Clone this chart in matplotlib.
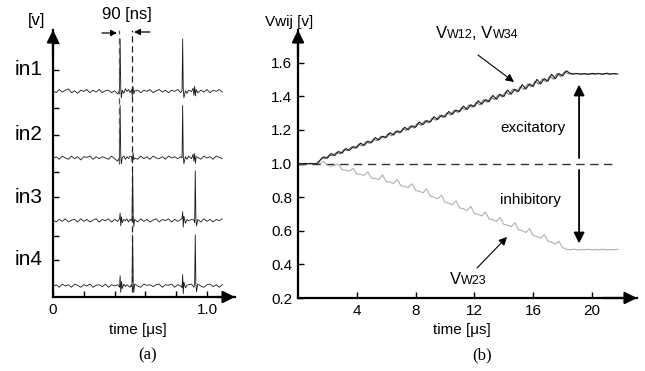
import matplotlib
matplotlib.use("Agg")
import matplotlib.pyplot as plt
from matplotlib.offsetbox import TextArea, HPacker, AnnotationBbox

plt.rcParams["font.family"] = ["Liberation Sans", "DejaVu Sans"]

W, H = 645, 371

# ---- panel (a): input spike trains, relative to each trace's baseline ----
in1_t = [0.00, 0.02, 0.04, 0.06, 0.08, 0.10, 0.12, 0.14, 0.16, 0.18, 0.20, 0.22, 0.24, 0.26, 0.28,
         0.30, 0.32, 0.34, 0.36, 0.38, 0.40, 0.42, 0.432, 0.436, 0.440, 0.444, 0.45, 0.46, 0.47,
         0.48, 0.49, 0.50, 0.51, 0.515, 0.52, 0.525, 0.53, 0.55, 0.57, 0.59, 0.61, 0.63, 0.65, 0.67,
         0.69, 0.71, 0.73, 0.75, 0.77, 0.79, 0.81, 0.83, 0.838, 0.842, 0.846, 0.850, 0.86, 0.87,
         0.88, 0.90, 0.91, 0.915, 0.92, 0.925, 0.93, 0.94, 0.96, 0.98, 1.00, 1.02, 1.04, 1.06,
         1.08, 1.10]
in1_v = [0.01, -0.02, 0.03, -0.01, 0.02, 0.04, -0.02, 0.01, -0.03, 0.02, 0.00, 0.03, -0.02, 0.02,
         -0.01, 0.03, -0.02, 0.01, 0.02, -0.02, 0.01, -0.04, 0.02, 0.82, 0.05, -0.10, 0.02, -0.03,
         0.04, 0.00, 0.03, -0.02, 0.03, -0.07, 0.07, -0.04, 0.01, 0.02, -0.02, 0.02, 0.00, 0.03,
         -0.02, 0.01, 0.03, -0.01, 0.02, -0.02, 0.02, 0.00, 0.03, -0.02, 0.01, 0.82, 0.04, -0.10,
         0.01, -0.03, 0.02, 0.00, 0.05, -0.06, 0.08, -0.07, 0.03, -0.02, 0.02, -0.01, 0.03, -0.02,
         0.02, 0.00, 0.03, -0.01]

in2_t = in1_t
in2_v = [-0.01, 0.02, -0.02, 0.03, 0.00, -0.02, 0.03, -0.01, 0.02, -0.03, 0.02, 0.01, 0.03, -0.02,
         0.02, -0.01, 0.02, 0.00, -0.02, 0.03, -0.01, -0.05, 0.01, 0.82, 0.04, -0.09, 0.01, 0.03,
         -0.02, 0.02, -0.01, 0.03, 0.02, -0.08, 0.08, -0.03, 0.00, -0.02, 0.03, -0.01, 0.02, -0.02,
         0.03, 0.00, -0.01, 0.02, -0.02, 0.03, 0.00, 0.02, -0.01, 0.02, 0.00, 0.82, 0.03, -0.09,
         0.02, -0.02, 0.03, -0.01, 0.06, -0.05, 0.07, -0.08, 0.02, 0.01, -0.02, 0.03, 0.00, 0.02,
         -0.02, 0.03, 0.01, -0.01]

in3_t = [0.00, 0.02, 0.04, 0.06, 0.08, 0.10, 0.12, 0.14, 0.16, 0.18, 0.20, 0.22, 0.24, 0.26, 0.28,
         0.30, 0.32, 0.34, 0.36, 0.38, 0.40, 0.42, 0.432, 0.436, 0.440, 0.445, 0.45, 0.46, 0.47,
         0.48, 0.49, 0.50, 0.508, 0.513, 0.517, 0.521, 0.525, 0.53, 0.55, 0.57, 0.59, 0.61, 0.63,
         0.65, 0.67, 0.69, 0.71, 0.73, 0.75, 0.77, 0.79, 0.81, 0.83, 0.838, 0.842, 0.846, 0.850,
         0.86, 0.87, 0.88, 0.90, 0.915, 0.920, 0.924, 0.928, 0.932, 0.94, 0.96, 0.98, 1.00, 1.02,
         1.04, 1.06, 1.08, 1.10]
in3_v = [0.01, -0.02, 0.02, -0.01, 0.03, -0.02, 0.01, 0.02, -0.02, 0.03, -0.01, 0.02, -0.02, 0.01,
         0.03, -0.02, 0.02, 0.00, 0.03, -0.02, 0.02, -0.01, 0.03, 0.12, -0.08, 0.06, -0.03, 0.02,
         0.00, 0.03, -0.02, 0.02, 0.00, 0.03, 0.78, 0.05, -0.09, 0.02, -0.02, 0.03, -0.01, 0.02,
         -0.02, 0.01, 0.03, -0.02, 0.02, 0.00, 0.03, -0.02, 0.02, -0.01, 0.02, 0.04, 0.14, -0.10,
         0.07, -0.04, 0.02, 0.00, 0.02, 0.01, -0.03, 0.78, 0.04, -0.08, 0.02, -0.02, 0.03, -0.01,
         0.02, -0.02, 0.02, 0.00, 0.03]

in4_t = in3_t
in4_v = [-0.01, 0.02, -0.02, 0.03, 0.00, 0.02, -0.02, 0.03, 0.01, -0.02, 0.02, 0.00, 0.03, -0.02,
         0.01, 0.02, -0.01, 0.03, -0.02, 0.02, 0.00, 0.02, -0.02, 0.16, -0.10, 0.07, -0.04, 0.03,
         -0.01, 0.02, 0.00, -0.02, 0.02, -0.01, 0.80, 0.04, -0.10, 0.03, 0.00, -0.02, 0.03, 0.01,
         0.02, -0.01, 0.02, 0.03, -0.02, 0.02, 0.01, 0.03, -0.02, 0.02, 0.00, -0.03, 0.18, -0.12,
         0.06, -0.03, 0.01, 0.02, 0.03, -0.02, 0.02, 0.80, 0.03, -0.09, 0.03, 0.00, -0.02, 0.02,
         0.03, -0.01, 0.02, -0.02, 0.02]

traces = [in1_v, in2_v, in3_v, in4_v]
trace_t = [in1_t, in2_t, in3_t, in4_t]
trace_names = ["in1", "in2", "in3", "in4"]
a_yticks = [0.41, 0.78, 1.39, 1.78, 2.36, 2.78, 3.38, 3.80]

# ---- panel (b): synaptic weight voltages ----
t_w12 = [i * 0.25 for i in range(88)]
vw12 = [1.000, 0.998, 1.001, 0.999, 1.000, 0.998, 1.020, 1.040, 1.032, 1.060, 1.048, 1.072,
        1.062, 1.090, 1.078, 1.101, 1.094, 1.122, 1.108, 1.133, 1.124, 1.155, 1.140, 1.163,
        1.155, 1.184, 1.170, 1.195, 1.186, 1.216, 1.201, 1.225, 1.216, 1.247, 1.232, 1.256,
        1.247, 1.279, 1.262, 1.287, 1.278, 1.310, 1.293, 1.318, 1.309, 1.342, 1.322, 1.350,
        1.339, 1.374, 1.353, 1.381, 1.368, 1.406, 1.383, 1.412, 1.399, 1.438, 1.413, 1.443,
        1.429, 1.470, 1.444, 1.474, 1.459, 1.501, 1.474, 1.505, 1.490, 1.532, 1.505, 1.536,
        1.522, 1.552, 1.538, 1.533, 1.536, 1.532, 1.535, 1.531, 1.537, 1.533, 1.536, 1.531,
        1.538, 1.532, 1.536, 1.533]
t_w34 = [0.125 + i * 0.25 for i in range(87)]
vw34 = [1.001, 0.999, 1.000, 1.002, 0.999, 1.001, 1.036, 1.030, 1.052, 1.045, 1.068, 1.058,
        1.084, 1.076, 1.099, 1.090, 1.116, 1.105, 1.131, 1.120, 1.146, 1.136, 1.162, 1.151,
        1.178, 1.166, 1.193, 1.181, 1.209, 1.197, 1.224, 1.212, 1.240, 1.228, 1.255, 1.242,
        1.271, 1.258, 1.287, 1.273, 1.302, 1.289, 1.318, 1.304, 1.333, 1.320, 1.349, 1.335,
        1.365, 1.350, 1.380, 1.365, 1.396, 1.381, 1.412, 1.396, 1.427, 1.411, 1.443, 1.426,
        1.459, 1.441, 1.474, 1.456, 1.490, 1.472, 1.505, 1.487, 1.521, 1.502, 1.537, 1.517,
        1.546, 1.535, 1.532, 1.537, 1.533, 1.536, 1.531, 1.535, 1.532, 1.537, 1.533, 1.536,
        1.532, 1.535, 1.533]
t_w23 = t_w12
vw23 = [1.000, 0.999, 1.001, 0.998, 1.000, 1.001, 1.000, 1.012, 0.990, 0.984, 0.990, 0.997,
        0.963, 0.961, 0.955, 0.972, 0.938, 0.936, 0.930, 0.950, 0.913, 0.912, 0.905, 0.933,
        0.893, 0.890, 0.882, 0.905, 0.868, 0.864, 0.857, 0.880, 0.840, 0.835, 0.826, 0.850,
        0.806, 0.800, 0.790, 0.812, 0.770, 0.765, 0.754, 0.778, 0.736, 0.731, 0.722, 0.745,
        0.703, 0.698, 0.688, 0.712, 0.670, 0.666, 0.656, 0.680, 0.638, 0.634, 0.624, 0.648,
        0.606, 0.601, 0.590, 0.614, 0.572, 0.567, 0.556, 0.578, 0.539, 0.532, 0.521, 0.537,
        0.500, 0.490, 0.487, 0.491, 0.486, 0.489, 0.487, 0.490, 0.486, 0.489, 0.487, 0.490,
        0.486, 0.489, 0.487, 0.489]
b_yticks = [0.2, 0.4, 0.6, 0.8, 1.0, 1.2, 1.4, 1.6]
b_xticks = [4, 8, 12, 16, 20]


def fx(x):
    return x / W


def fy(y):
    return 1 - y / H


def axis_arrows(ax, size):
    style = dict(arrowstyle="-|>", color="k", lw=1.6, shrinkA=0, shrinkB=0,
                 mutation_scale=size)
    ax.annotate("", xy=(0, 1), xytext=(0, 0.9), xycoords="axes fraction",
                arrowprops=style, annotation_clip=False)
    ax.annotate("", xy=(1, 0), xytext=(0.9, 0), xycoords="axes fraction",
                arrowprops=style, annotation_clip=False)


def style_axes(ax):
    for side in ["top", "right"]:
        ax.spines[side].set_visible(False)
    for side in ["left", "bottom"]:
        ax.spines[side].set_linewidth(1.6)
    ax.tick_params(direction="in", length=4, width=1, labelsize=11, pad=4)


fig = plt.figure(figsize=(W / 100, H / 100), dpi=100)

# panel (a)
ax_a = fig.add_axes([fx(53), fy(297), fx(235 - 53), (297 - 30) / H])
offsets = [3.04, 2.0, 1.02, 0.0]
for t, v, off in zip(trace_t, traces, offsets):
    ax_a.plot(t, [val + off for val in v], color="#1a1a1a", lw=0.6)
ax_a.plot([0.429, 0.429], [1.9, 4.0], color="#555555", lw=0.9, ls=(0, (5, 3)))
ax_a.plot([0.515, 0.515], [-0.1, 4.0], color="#222222", lw=0.9, ls=(0, (5, 3)))
ax_a.set_xlim(0, 1.182)
ax_a.set_ylim(-0.172, 4.0)
ax_a.set_xticks([0, 0.2, 0.4, 0.6, 0.8, 1.0])
ax_a.set_xticklabels(["0", "", "", "", "", "1.0"])
ax_a.set_yticks(a_yticks)
ax_a.set_yticklabels([])
style_axes(ax_a)
axis_arrows(ax_a, 18)
for name, yv in zip(trace_names, [3.38, 2.36, 1.39, 0.41]):
    ax_a.text(-0.16, yv, name, fontsize=15, ha="center", va="center", clip_on=False)

fig.text(fx(37), fy(20), "[v]", fontsize=12, ha="center", va="center")
fig.text(fx(127), fy(15), "90 [ns]", fontsize=12, ha="center", va="center")
fig.text(fx(138), fy(330), "time [\u03bcs]", fontsize=11, ha="center", va="center")
fig.text(fx(148), fy(355), "(a)", fontsize=12, ha="center", va="center",
         family="Liberation Serif")
arr = dict(arrowstyle="-|>", color="k", lw=0.9, shrinkA=0, shrinkB=0, mutation_scale=9)
ax_a.annotate("", xy=(fx(117), fy(33)), xytext=(fx(102), fy(33)),
              xycoords="figure fraction", arrowprops=arr)
ax_a.annotate("", xy=(fx(134), fy(32)), xytext=(fx(150), fy(32)),
              xycoords="figure fraction", arrowprops=arr)

# panel (b)
ax_b = fig.add_axes([fx(298), fy(298), fx(637 - 298), (298 - 30) / H])
ax_b.plot([0, 21.4], [1.0, 1.0], color="#333333", lw=1.0, ls=(0, (6, 4)))
ax_b.plot(t_w23, vw23, color="#b0b0b0", lw=0.8)
ax_b.plot(t_w34, vw34, color="#808080", lw=0.8)
ax_b.plot(t_w12, vw12, color="#1a1a1a", lw=0.8)
ax_b.set_xlim(0, 23.06)
ax_b.set_ylim(0.2, 1.795)
ax_b.set_xticks(b_xticks)
ax_b.set_yticks(b_yticks)
ax_b.set_yticklabels([f"{v:.1f}" for v in b_yticks])
style_axes(ax_b)
axis_arrows(ax_b, 18)

big = dict(arrowstyle="-|>", color="k", lw=1.3, shrinkA=0, shrinkB=0, mutation_scale=16)
ax_b.annotate("", xy=(19.12, 1.47), xytext=(19.12, 1.033), arrowprops=big)
ax_b.annotate("", xy=(19.12, 0.525), xytext=(19.12, 0.962), arrowprops=big)
ax_b.text(fx(533), fy(128), "excitatory", fontsize=11, ha="center", va="center",
          transform=fig.transFigure)
ax_b.text(fx(530), fy(200), "inhibitory", fontsize=11, ha="center", va="center",
          transform=fig.transFigure)

thin = dict(arrowstyle="-|>", color="k", lw=0.8, shrinkA=0, shrinkB=0, mutation_scale=12)
ax_b.annotate("", xy=(fx(514), fy(82)), xytext=(fx(478), fy(55)),
              xycoords="figure fraction", arrowprops=thin)
ax_b.annotate("", xy=(fx(507), fy(237)), xytext=(fx(477), fy(268)),
              xycoords="figure fraction", arrowprops=thin)


def mixed_label(parts, x, y):
    boxes = [TextArea(s, textprops=dict(fontsize=fs, family="Liberation Sans")) for s, fs in parts]
    pack = HPacker(children=boxes, align="baseline", pad=0, sep=0)
    ab = AnnotationBbox(pack, (fx(x), fy(y)), xycoords="figure fraction", frameon=False,
                        box_alignment=(0.5, 0.5), pad=0)
    fig.add_artist(ab)


mixed_label([("V", 12), ("W12", 9), (", V", 12), ("W34", 9)], 477, 33)
mixed_label([("V", 12), ("W23", 9)], 468, 280)

fig.text(fx(289), fy(22), "Vwij [v]", fontsize=11, ha="center", va="center")
fig.text(fx(462), fy(330), "time [\u03bcs]", fontsize=11, ha="center", va="center")
fig.text(fx(482), fy(355), "(b)", fontsize=12, ha="center", va="center",
         family="Liberation Serif")

fig.savefig("out.png", dpi=100)
